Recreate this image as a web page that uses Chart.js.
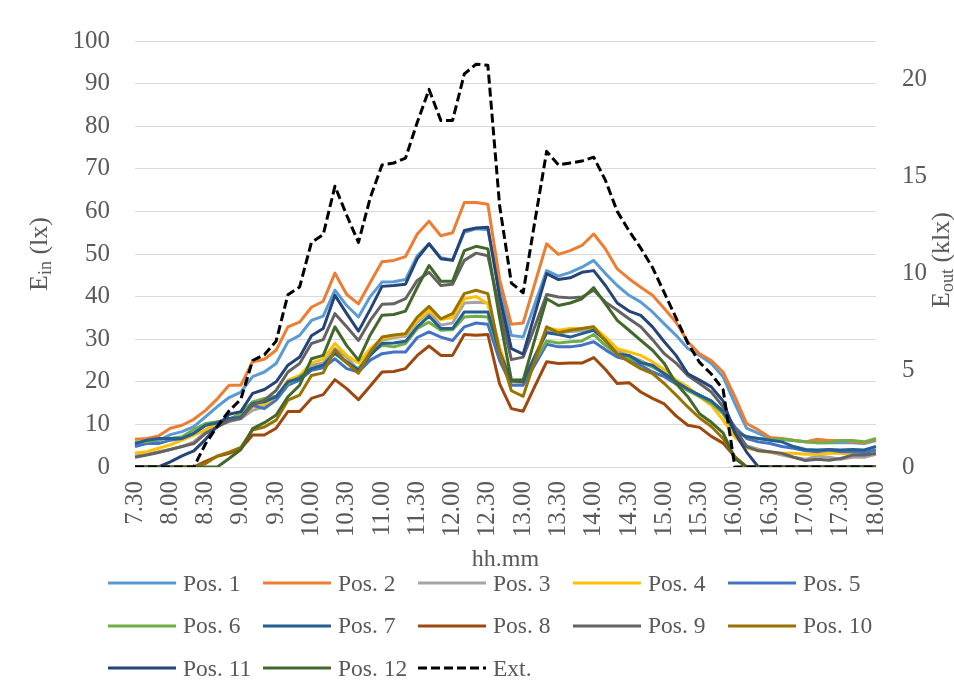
<!DOCTYPE html>
<html>
<head>
<meta charset="utf-8">
<script src="https://cdn.jsdelivr.net/npm/chart.js@4.4.1/dist/chart.umd.min.js"></script>
<style>
  html, body { margin: 0; padding: 0; background: #ffffff; }
  #wrap { position: relative; width: 954px; height: 695px; overflow: hidden; }
  #chart { position: absolute; left: 0; top: 0; }
  .item { position: absolute; height: 30px; display: flex; align-items: center;
          font-family: "Liberation Serif", "Times New Roman", serif; font-size: 23.5px; color: #595959;
          white-space: nowrap; }
  .item svg { display: block; margin-right: 7px; }
</style>
</head>
<body>
<div id="wrap">
  <canvas id="chart" width="954" height="695"></canvas>
  <div id="legend"></div>
</div>
<script>
// Time of day (hh.mm), one reading every ten minutes
const times = ['7.30','7.40','7.50','8.00','8.10','8.20','8.30','8.40','8.50','9.00','9.10','9.20','9.30','9.40','9.50',
  '10.00','10.10','10.20','10.30','10.40','10.50','11.00','11.10','11.20','11.30','11.40','11.50','12.00','12.10','12.20',
  '12.30','12.40','12.50','13.00','13.10','13.20','13.30','13.40','13.50','14.00','14.10','14.20','14.30','14.40','14.50',
  '15.00','15.10','15.20','15.30','15.40','15.50','16.00','16.10','16.20','16.30','16.40','16.50','17.00','17.10','17.20',
  '17.30','17.40','17.50','18.00'];

// Indoor illuminance E_in (lx) at each measuring position
const pos1 = [5.0,5.7,6.2,7.6,8.3,9.5,11.8,14.2,16.3,17.6,21.2,22.3,24.3,29.4,30.9,34.4,35.4,41.5,37.9,35.2,40.0,43.4,43.5,44.0,49.6,52.4,49.1,48.6,55.1,55.9,55.7,42.0,30.9,30.5,38.3,46.1,44.8,45.7,46.9,48.5,45.4,42.6,40.3,38.7,36.4,33.6,30.9,27.8,26.2,24.3,21.2,14.9,9.1,7.9,6.7,6.5,6.2,5.9,5.7,5.7,5.7,5.7,5.5,6.2];
const pos2 = [6.5,6.7,7.3,9.1,9.8,11.2,13.3,16.0,19.2,19.2,24.7,25.3,27.4,32.9,34.0,37.5,38.9,45.5,40.5,38.3,43.3,48.2,48.5,49.4,54.7,57.7,54.3,55.0,62.1,62.1,61.7,44.0,33.5,33.8,43.1,52.4,49.9,50.8,52.0,54.7,51.2,46.5,44.2,42.2,40.3,37.2,34.0,29.4,26.6,25.0,22.3,16.5,10.2,8.7,6.9,6.7,6.3,5.9,6.5,6.2,6.2,5.9,5.7,6.5];
const pos3 = [2.6,3.0,3.6,4.1,4.8,5.9,8.3,9.8,10.6,11.4,13.3,14.1,16.1,19.6,21.2,23.9,24.4,27.8,25.8,22.7,27.4,29.7,30.4,30.7,34.0,36.4,33.3,33.8,38.5,38.7,38.5,28.0,20.0,20.2,26.0,32.0,31.5,31.8,32.0,32.5,30.0,27.5,26.0,25.0,23.5,22.0,20.0,18.5,16.8,15.5,12.5,8.0,5.0,4.2,3.5,2.8,2.3,1.8,2.6,2.3,1.8,2.3,2.3,3.0];
const pos4 = [3.3,3.6,4.4,5.2,6.3,7.5,8.8,10.2,11.2,11.6,14.1,14.8,16.1,20.4,21.5,24.4,25.4,29.0,26.2,24.4,27.8,30.1,30.8,31.1,34.4,36.8,34.6,35.1,39.5,40.0,38.3,28.0,20.0,19.8,26.0,32.7,32.1,32.5,32.5,32.9,30.5,27.8,27.0,26.2,24.7,22.9,20.4,18.8,16.5,14.5,11.0,7.0,4.5,3.8,3.4,3.2,3.2,3.0,3.0,3.2,3.2,3.0,3.2,3.2];
const pos5 = [4.8,5.5,5.5,6.3,6.7,7.9,9.8,10.6,11.2,12.2,14.5,13.7,15.7,19.2,20.4,22.7,23.3,25.4,23.1,22.3,25.1,26.6,27.0,27.0,30.4,31.7,30.5,29.7,32.9,33.8,33.5,25.0,19.2,19.2,24.0,28.8,28.2,28.2,28.6,29.4,27.5,25.8,25.1,23.9,22.3,21.2,19.5,18.0,16.9,15.3,13.3,9.4,6.7,5.9,5.5,4.8,4.4,3.8,3.6,4.0,3.6,3.6,3.4,4.0];
const pos6 = [5.8,5.9,6.5,6.7,7.1,8.8,10.2,10.6,11.2,12.6,15.3,16.1,16.6,19.6,21.2,23.1,23.9,26.6,24.4,23.1,26.6,28.6,28.2,29.0,32.5,34.0,32.1,32.2,35.2,35.4,35.2,27.0,20.3,20.4,25.0,29.6,29.1,29.4,29.6,31.1,28.5,26.5,25.5,24.5,23.5,22.0,20.0,18.0,16.5,15.0,12.5,8.5,7.1,6.7,6.5,6.5,6.2,5.9,5.7,5.7,6.2,6.2,5.9,6.7];
const pos7 = [5.5,6.3,6.7,6.7,6.7,7.9,9.8,10.4,11.4,11.6,14.9,15.3,16.5,20.0,20.8,23.1,23.9,26.8,24.7,22.7,26.2,29.0,29.1,29.5,32.9,35.4,32.5,32.5,36.4,36.4,36.4,27.0,20.2,20.0,26.0,31.5,31.1,30.5,31.3,32.1,29.7,26.5,26.2,24.5,23.9,21.9,20.0,18.3,16.8,15.5,13.0,8.5,7.1,6.7,6.3,5.9,4.8,4.1,4.0,4.1,4.0,4.1,4.0,4.8];
const pos8 = [0,0,0,0,0,0,1.3,2.5,3.2,4.3,7.5,7.5,9.1,13.0,13.0,16.1,17.0,20.5,18.4,15.8,19.0,22.3,22.4,23.1,26.2,28.4,26.2,26.2,31.1,30.9,31.1,19.5,13.7,13.1,19.0,24.7,24.3,24.4,24.4,25.7,22.9,19.6,19.8,17.6,16.1,14.8,12.0,9.8,9.3,7.2,5.6,2.4,0,0,0,0,0,0,0,0,0,0,0,0];
const pos9 = [2.3,2.8,3.4,4.1,4.8,5.5,7.9,9.4,10.9,11.4,14.5,15.7,18.0,22.3,24.3,29.0,29.9,36.0,32.9,29.7,34.4,38.2,38.3,39.5,43.8,45.7,42.6,42.9,48.5,50.2,49.6,37.0,25.2,25.8,33.0,40.5,39.9,39.7,39.9,41.5,38.7,36.8,34.8,32.9,29.9,26.6,24.4,21.5,19.6,17.6,14.1,9.1,4.8,3.8,3.6,3.2,2.3,1.5,1.8,1.6,2.0,2.8,2.8,3.2];
const pos10 = [0,0,0,0,0,0,0.8,2.6,3.5,4.6,8.7,9.4,11.0,15.7,16.9,21.5,22.1,27.5,24.5,22.0,27.0,30.5,31.0,31.3,35.2,37.7,34.8,36.0,40.7,41.5,40.7,27.0,17.9,16.6,25.0,32.9,31.5,32.1,32.5,32.9,29.5,26.6,24.7,23.1,21.9,19.6,16.9,14.1,11.5,9.5,6.7,2.4,0,0,0,0,0,0,0,0,0,0,0,0];
const pos11 = [0,0,0,1.2,2.6,3.8,6.5,9.6,12.4,13.0,17.3,18.2,20.0,23.9,25.8,30.8,32.5,40.3,36.0,31.9,37.0,42.4,42.6,42.9,48.9,52.4,48.9,48.5,55.5,56.1,56.3,40.0,27.8,26.5,36.0,45.4,44.0,44.4,45.7,46.1,42.6,38.5,36.6,35.6,32.9,29.4,26.2,21.9,20.4,18.8,15.5,8.0,3.5,0,0,0,0,0,0,0,0,0,0,0];
const pos12 = [0,0,0,0,0,0,0,0,2.0,4.1,9.0,10.4,12.2,16.5,19.2,25.4,26.2,32.9,28.5,25.1,31.0,35.6,35.8,36.6,42.2,47.3,43.6,43.6,50.8,51.8,51.2,35.0,20.5,20.4,30.0,39.5,37.9,38.5,39.5,42.1,38.3,34.4,32.1,29.7,27.4,24.3,19.6,16.5,12.5,10.5,8.0,2.0,0,0,0,0,0,0,0,0,0,0,0,0];

// Outdoor illuminance E_out (klx), read on the right-hand axis
const ext = [0,0,0,0,0,0,1.2,2.1,2.9,3.5,5.5,5.8,6.5,8.9,9.3,11.6,12.0,14.5,13.0,11.6,13.9,15.6,15.7,15.95,17.8,19.5,17.9,17.9,20.3,20.8,20.75,13.5,9.5,9.0,12.7,16.3,15.6,15.7,15.8,16.0,14.8,13.2,12.2,11.3,10.3,9.0,7.7,6.4,5.4,4.8,4.0,0,0,0,0,0,0,0,0,0,0,0,0,0];

const seriesNames = ['Pos. 1','Pos. 2','Pos. 3','Pos. 4','Pos. 5','Pos. 6','Pos. 7','Pos. 8','Pos. 9','Pos. 10','Pos. 11','Pos. 12','Ext.'];
const seriesData = [pos1,pos2,pos3,pos4,pos5,pos6,pos7,pos8,pos9,pos10,pos11,pos12,ext];
const seriesColors = ['#5B9BD5','#ED7D31','#A5A5A5','#FFC000','#4472C4','#70AD47','#255E91','#9E480E','#636363','#997300','#264478','#43682B','#000000'];

const FONT = '"Liberation Serif", "Times New Roman", serif';
const TEXT = '#595959';
const TICK_SIZE = 25;
const EXT_DASH = [9, 4];

const datasets = seriesNames.map((name, k) => {
  const isExt = k === seriesNames.length - 1;
  return {
    label: name,
    data: seriesData[k],
    yAxisID: isExt ? 'y1' : 'y',
    borderColor: seriesColors[k],
    backgroundColor: seriesColors[k],
    borderWidth: 3,
    borderDash: isExt ? EXT_DASH : [],
    borderJoinStyle: 'round',
    pointRadius: 0,
    tension: 0,
    fill: false,
    // later series sit on top, the outdoor curve above everything
    order: isExt ? 0 : seriesNames.length - 1 - k
  };
});

// Axis titles with subscripts, drawn rotated beside the value axes
function drawSubTitle(ctx, main, sub, rest, x, y) {
  ctx.save();
  ctx.translate(x, y);
  ctx.rotate(-Math.PI / 2);
  const big = '26px ' + FONT, small = '18px ' + FONT;
  ctx.font = big;
  const w1 = ctx.measureText(main).width;
  const w3 = ctx.measureText(rest).width;
  ctx.font = small;
  const w2 = ctx.measureText(sub).width;
  let cx = -(w1 + w2 + w3) / 2;
  ctx.fillStyle = TEXT;
  ctx.textAlign = 'left';
  ctx.textBaseline = 'middle';
  ctx.font = big; ctx.fillText(main, cx, 0); cx += w1;
  ctx.font = small; ctx.fillText(sub, cx, 6); cx += w2;
  ctx.font = big; ctx.fillText(rest, cx, 0);
  ctx.restore();
}
const axisTitles = {
  id: 'axisTitles',
  afterDraw(chart) {
    const { top, bottom } = chart.chartArea;
    const cy = (top + bottom) / 2;
    drawSubTitle(chart.ctx, 'E', 'in', ' (lx)', 40, cy);
    drawSubTitle(chart.ctx, 'E', 'out', ' (klx)', 942, cy + 6);
  }
};

new Chart(document.getElementById('chart'), {
  type: 'line',
  data: { labels: times, datasets },
  options: {
    responsive: false,
    animation: false,
    devicePixelRatio: 1,
    layout: { padding: { top: 40, left: 0, right: 0, bottom: 0 } },
    plugins: { legend: { display: false }, tooltip: { enabled: false } },
    scales: {
      x: {
        type: 'category',
        grid: { display: false, drawTicks: false },
        border: { display: false },
        ticks: {
          autoSkip: false, minRotation: 90, maxRotation: 90, padding: 14,
          color: TEXT, font: { family: FONT, size: TICK_SIZE },
          callback: (v, i) => (i % 3 === 0 ? times[i] : '')
        },
        title: { display: true, text: 'hh.mm', color: TEXT, font: { family: FONT, size: 24 }, padding: { top: 0, bottom: 121 } },
        afterFit: s => { s.height = 228; }
      },
      y: {
        position: 'left', min: 0, max: 100,
        ticks: { stepSize: 10, padding: 25, color: TEXT, font: { family: FONT, size: TICK_SIZE } },
        grid: { color: '#D9D9D9', lineWidth: 1, drawTicks: false },
        border: { display: false },
        afterFit: s => { s.width = 135; }
      },
      y1: {
        position: 'right', min: 0, max: 22,
        ticks: { stepSize: 5, includeBounds: false, padding: 26, color: TEXT, font: { family: FONT, size: TICK_SIZE } },
        grid: { display: false, drawTicks: false },
        border: { display: false },
        afterFit: s => { s.width = 78; }
      }
    }
  },
  plugins: [axisTitles]
});

// Legend: five columns, three rows, line sample followed by the series name
const legend = document.getElementById('legend');
seriesNames.forEach((name, k) => {
  const col = k % 5, row = Math.floor(k / 5);
  const item = document.createElement('div');
  item.className = 'item';
  item.style.left = (108 + col * 155) + 'px';
  item.style.top = (583 + row * 42.5 - 15) + 'px';
  const dash = k === seriesNames.length - 1 ? ' stroke-dasharray="' + EXT_DASH.join(' ') + '"' : '';
  item.innerHTML = '<svg width="68" height="6"><line x1="0" y1="3" x2="68" y2="3" stroke="' + seriesColors[k] +
    '" stroke-width="3"' + dash + '/></svg><span>' + name + '</span>';
  legend.appendChild(item);
});
</script>
</body>
</html>
